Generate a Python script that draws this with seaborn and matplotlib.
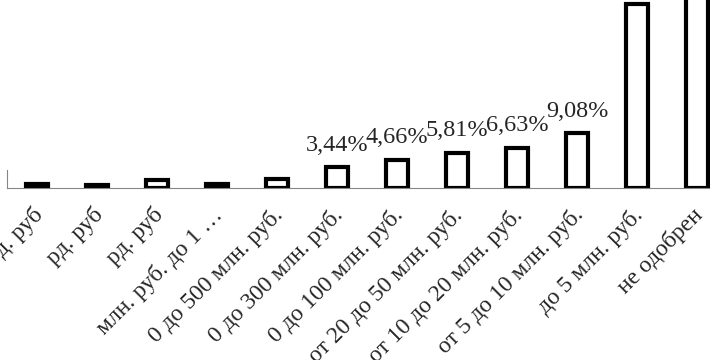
#!/usr/bin/env python3
# -*- coding: utf-8 -*-
"""
Распределение по сумме (столбчатая диаграмма, обрезанный фрагмент)
"""

import matplotlib
matplotlib.use('Agg')
import matplotlib.pyplot as plt
import matplotlib.transforms as mtransforms
import seaborn as sns
import pandas as pd

# данные
categories = [
    'свыше 10 млрд. руб',
    'от 5 до 10 млрд. руб',
    'от 1 до 5 млрд. руб',
    'от 500 млн. руб. до 1 млрд. руб.',
    'от 300 до 500 млн. руб.',
    'от 100 до 300 млн. руб.',
    'от 50 до 100 млн. руб.',
    'от 20 до 50 млн. руб.',
    'от 10 до 20 млн. руб.',
    'от 5 до 10 млн. руб.',
    'до 5 млн. руб.',
    'не одобрен',
]
# подписи оси в том виде, в каком они видны на фрагменте
tick_labels = [
    'д. руб',
    'рд. руб',
    'рд. руб',
    'млн. руб. до 1 …',
    '0 до 500 млн. руб.',
    '0 до 300 млн. руб.',
    '0 до 100 млн. руб.',
    'от 20 до 50 млн. руб.',
    'от 10 до 20 млн. руб.',
    'от 5 до 10 млн. руб.',
    'до 5 млн. руб.',
    'не одобрен',
]
shares = [0.60, 0.45, 1.36, 0.70, 1.48, 3.44, 4.66, 5.81, 6.63, 9.08, 30.20, 35.59]
# подписи значений видны только у части столбцов
shown_labels = [False, False, False, False, False, True, True, True, True, True, True, True]

sns.set_style('white')
plt.rcParams['font.family'] = ['Liberation Serif', 'DejaVu Serif']
plt.rcParams['font.size'] = 17.5

df = pd.DataFrame({'cat': categories, 'share': shares})

fig = plt.figure(figsize=(7.1, 3.6), dpi=100)
# оси шире рисунка: фрагмент обрезан слева, сверху и справа
ax = fig.add_axes([7 / 710, 172 / 360, 720 / 710, 244 / 360])

sns.barplot(data=df, x='cat', y='share', ax=ax, color='white',
            edgecolor='black', linewidth=3, width=0.38, saturation=1)

ax.set_xlim(-0.5, len(categories) - 0.5)
ax.set_ylim(0, 40)
ax.set_xlabel('')
ax.set_ylabel('')
ax.set_yticks([])

# подписи значений
labels = [f'{v:.2f}%'.replace('.', ',') if s else '' for v, s in zip(shares, shown_labels)]
ax.bar_label(ax.containers[0], labels=labels, padding=8, fontsize=17.5)

# оси в стиле Excel
axis_color = '#868686'
for side in ['top', 'right']:
    ax.spines[side].set_visible(False)
ax.spines['bottom'].set_color(axis_color)
ax.spines['bottom'].set_linewidth(0.8)
ax.spines['left'].set_color(axis_color)
ax.spines['left'].set_linewidth(0.8)
ax.spines['left'].set_bounds(0, 3)

ax.set_xticks(range(len(categories)))
ax.set_xticks([i - 0.5 for i in range(len(categories) + 1)], minor=True)
ax.tick_params(axis='x', which='major', length=0, pad=11.5)
ax.tick_params(axis='x', which='minor', length=5, width=0.8, color=axis_color,
               direction='out')
ax.set_xticklabels(tick_labels, rotation=45, ha='right', va='top',
                   rotation_mode='anchor', fontsize=17)
shift = mtransforms.ScaledTranslation(-5 / 100, 0, fig.dpi_scale_trans)
for lbl in ax.get_xticklabels():
    lbl.set_transform(lbl.get_transform() + shift)

fig.savefig('out.png', dpi=100, facecolor='white')
